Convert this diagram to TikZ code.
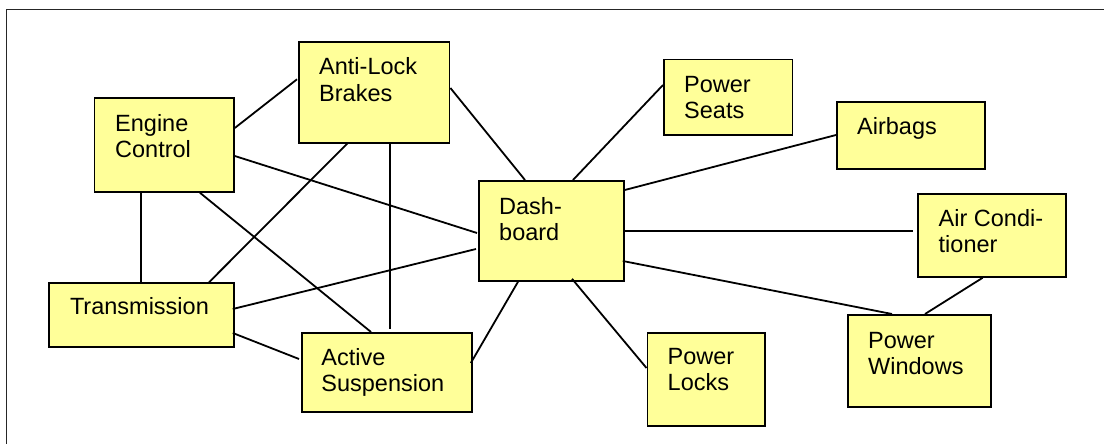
\documentclass[tikz,border=0pt]{standalone}
\usepackage{fontspec}
\setmainfont{Liberation Sans}
\definecolor{boxyellow}{RGB}{255,255,153}
\begin{document}
\begin{tikzpicture}[x=1pt,y=-1pt,
  box/.style={draw=black, fill=boxyellow, line width=1.8pt, rectangle, inner sep=0pt, anchor=north west},
  lbl/.style={inner sep=0pt, anchor=north west, align=left, font=\fontsize{23.5}{26.5}\selectfont},
  link/.style={draw=black, line width=1.8pt},
  frameline/.style={draw=black!85, line width=1.6pt}]
\useasboundingbox (0,0) rectangle (1104,444);
\coordinate (fbl) at (6.5,444);
\coordinate (ftl) at (6.5,9.5);
\coordinate (ftr) at (1104,9.5);
\draw[frameline] (fbl) -- (ftl) -- (ftr);

% boxes
\node[box, minimum width=139.5pt, minimum height=94pt] (ec) at (93.5,97) {};
\node[box, minimum width=150.6pt, minimum height=100.7pt] (ab) at (298,41.3) {};
\node[box, minimum width=184.4pt, minimum height=63.7pt] (tr) at (48.3,282.3) {};
\node[box, minimum width=170.3pt, minimum height=79pt] (as) at (300.7,332) {};
\node[box, minimum width=145pt, minimum height=100pt] (db) at (478,180) {};
\node[box, minimum width=128.5pt, minimum height=75pt] (ps) at (663,58.7) {};
\node[box, minimum width=148pt, minimum height=67pt] (air) at (836,101) {};
\node[box, minimum width=148pt, minimum height=83pt] (ac) at (917,193) {};
\node[box, minimum width=143pt, minimum height=92pt] (pw) at (847,314) {};
\node[box, minimum width=117.5pt, minimum height=93pt] (pl) at (646.5,332) {};

% labels
\node[lbl] (ect) at ([shift={(21.5,17)}]ec.north west) {Engine\\Control};
\node[lbl] (abt) at ([shift={(21,16)}]ab.north west) {Anti-Lock\\Brakes};
\node[lbl] (trt) at ([shift={(21.5,14.5)}]tr.north west) {Transmission};
\node[lbl] (ast) at ([shift={(20.5,16)}]as.north west) {Active\\Suspension};
\node[lbl] (dbt) at ([shift={(21,17)}]db.north west) {Dash-\\board};
\node[lbl] (pst) at ([shift={(21,17)}]ps.north west) {Power\\Seats};
\node[lbl] (airt) at ([shift={(21,16)}]air.north west) {Airbags};
\node[lbl] (act) at ([shift={(21.5,16)}]ac.north west) {Air Condi-\\tioner};
\node[lbl] (pwt) at ([shift={(21,18)}]pw.north west) {Power\\Windows};
\node[lbl] (plt) at ([shift={(21,16)}]pl.north west) {Power\\Locks};

% connectors
\path[link] ([shift={(0,31)}]ec.north east) -- ([shift={(-1,38)}]ab.north west);
\path[link] ([shift={(0,59)}]ec.north east) -- ([shift={(-1,53)}]db.north west);
\path[link] ([shift={(47.5,0)}]ec.south west) -- ([shift={(92.7,0)}]tr.north west);
\path[link] ([shift={(106.5,0)}]ec.south west) -- ([shift={(70.3,0)}]as.north west);
\path[link] ([shift={(50,-1)}]ab.south west) -- ([shift={(160.7,0)}]tr.north west);
\path[link, line width=1.3pt] ([shift={(92,0)}]ab.south west) -- ([shift={(89.3,-3)}]as.north west);
\path[link] ([shift={(0,46.7)}]ab.north east) -- ([shift={(47,0)}]db.north west);
\path[link] ([shift={(-1.7,26.7)}]tr.north east) -- ([shift={(-2,69)}]db.north west);
\path[link] ([shift={(-1.7,50.7)}]tr.north east) -- ([shift={(-1.7,27)}]as.north west);
\path[link] ([shift={(-2,31)}]as.north east) -- ([shift={(40,0)}]db.south west);
\path[link] ([shift={(95,0)}]db.north west) -- ([shift={(0,26.3)}]ps.north west);
\path[link] ([shift={(0,10)}]db.north east) -- ([shift={(0,34)}]air.north west);
\path[link] ([shift={(0,51)}]db.north east) -- ([shift={(-4,38)}]ac.north west);
\path[link] ([shift={(-2,81)}]db.north east) -- ([shift={(45,0)}]pw.north west);
\path[link] ([shift={(94,-3)}]db.south west) -- ([shift={(0,36)}]pl.north west);
\path[link] ([shift={(65.6,0)}]ac.south west) -- ([shift={(78,0)}]pw.north west);
\end{tikzpicture}
\end{document}
